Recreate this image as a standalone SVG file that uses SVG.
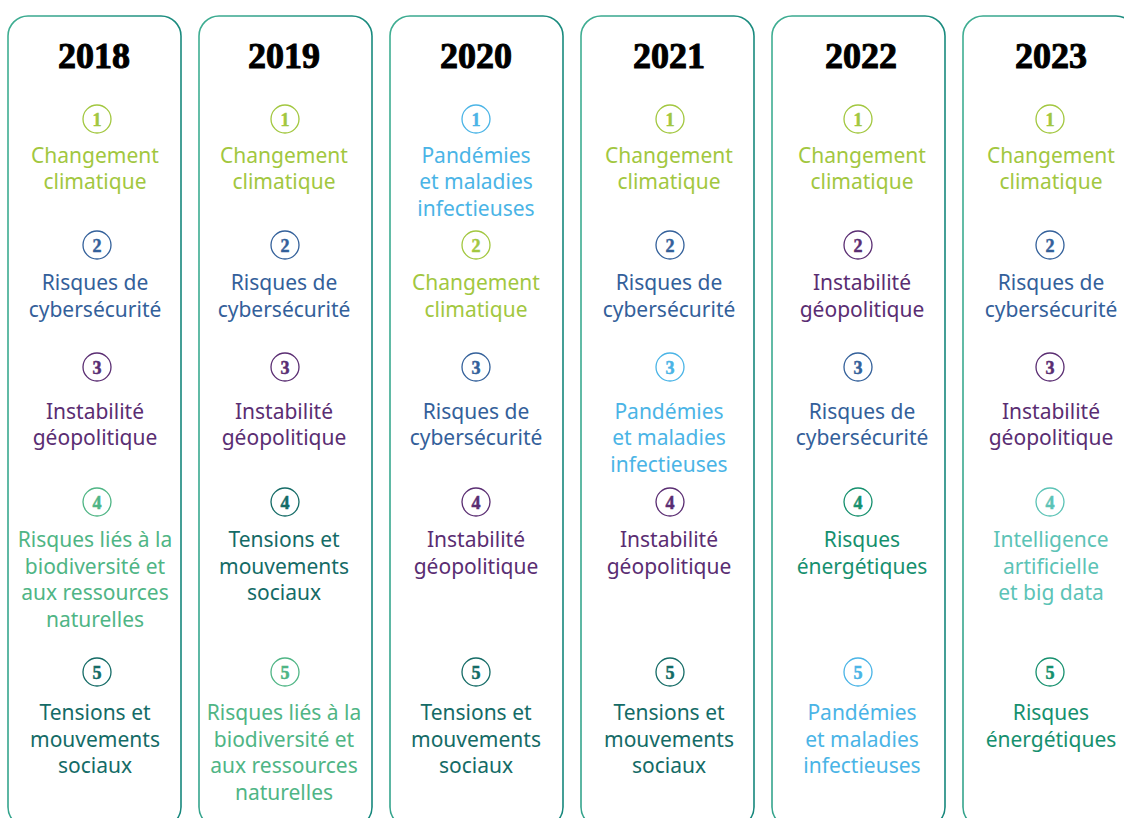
<svg xmlns="http://www.w3.org/2000/svg" width="1124" height="818" viewBox="0 0 1124 818">
<defs>
<linearGradient id="gs" x1="0" y1="0" x2="1" y2="0.3">
<stop offset="0" stop-color="#3fae92"/>
<stop offset="1" stop-color="#16877c"/>
</linearGradient>
<style>
.col{fill:none;stroke:url(#gs);stroke-width:1.6}
.yr{font-family:"Liberation Serif",serif;font-weight:bold;font-size:36px;fill:#000;stroke:#000;stroke-width:1;text-anchor:middle}
.bc{fill:#fff;stroke-width:1.3}
.bn{font-family:"Liberation Serif",serif;font-weight:bold;font-size:18px;text-anchor:middle;stroke-width:0.5}
.t{font-family:"Noto Sans","Open Sans",sans-serif;font-size:21px;text-anchor:middle}
.lime{fill:#a2c73f;stroke:#a2c73f}
.blue{fill:#33609a;stroke:#33609a}
.purp{fill:#5a2d72;stroke:#5a2d72}
.grn{fill:#4fb585;stroke:#4fb585}
.teal{fill:#146b66;stroke:#146b66}
.lblu{fill:#4ab4e6;stroke:#4ab4e6}
.eng{fill:#16906e;stroke:#16906e}
.turq{fill:#5cc3b6;stroke:#5cc3b6}
text.t{stroke:none}
circle.bc{fill:#fff}
</style>
</defs>
<rect width="1124" height="818" fill="#fff"/>

<g id="col-2018">
<rect class="col" x="8" y="16" width="173" height="811" rx="20"/>
<text class="yr" x="94" y="68">2018</text>
<g class="lime"><circle class="bc" cx="97" cy="119" r="14"/><text class="bn" x="97" y="125.5">1</text>
<text class="t" x="95" y="163">Changement</text><text class="t" x="95" y="189">climatique</text></g>
<g class="blue"><circle class="bc" cx="97" cy="245" r="14"/><text class="bn" x="97" y="251.5">2</text>
<text class="t" x="95" y="290">Risques de</text><text class="t" x="95" y="317">cybersécurité</text></g>
<g class="purp"><circle class="bc" cx="97" cy="367" r="14"/><text class="bn" x="97" y="373.5">3</text>
<text class="t" x="95" y="419">Instabilité</text><text class="t" x="95" y="445">géopolitique</text></g>
<g class="grn"><circle class="bc" cx="97" cy="502" r="14"/><text class="bn" x="97" y="508.5">4</text>
<text class="t" x="95" y="547">Risques liés à la</text><text class="t" x="95" y="574">biodiversité et</text><text class="t" x="95" y="600">aux ressources</text><text class="t" x="95" y="627">naturelles</text></g>
<g class="teal"><circle class="bc" cx="97" cy="672" r="14"/><text class="bn" x="97" y="678.5">5</text>
<text class="t" x="95" y="720">Tensions et</text><text class="t" x="95" y="747">mouvements</text><text class="t" x="95" y="773">sociaux</text></g>
</g>

<g id="col-2019">
<rect class="col" x="199" y="16" width="173" height="811" rx="20"/>
<text class="yr" x="284" y="68">2019</text>
<g class="lime"><circle class="bc" cx="285" cy="119" r="14"/><text class="bn" x="285" y="125.5">1</text>
<text class="t" x="284" y="163">Changement</text><text class="t" x="284" y="189">climatique</text></g>
<g class="blue"><circle class="bc" cx="285" cy="245" r="14"/><text class="bn" x="285" y="251.5">2</text>
<text class="t" x="284" y="290">Risques de</text><text class="t" x="284" y="317">cybersécurité</text></g>
<g class="purp"><circle class="bc" cx="285" cy="367" r="14"/><text class="bn" x="285" y="373.5">3</text>
<text class="t" x="284" y="419">Instabilité</text><text class="t" x="284" y="445">géopolitique</text></g>
<g class="teal"><circle class="bc" cx="285" cy="502" r="14"/><text class="bn" x="285" y="508.5">4</text>
<text class="t" x="284" y="547">Tensions et</text><text class="t" x="284" y="574">mouvements</text><text class="t" x="284" y="600">sociaux</text></g>
<g class="grn"><circle class="bc" cx="285" cy="672" r="14"/><text class="bn" x="285" y="678.5">5</text>
<text class="t" x="284" y="720">Risques liés à la</text><text class="t" x="284" y="747">biodiversité et</text><text class="t" x="284" y="773">aux ressources</text><text class="t" x="284" y="800">naturelles</text></g>
</g>

<g id="col-2020">
<rect class="col" x="390" y="16" width="173" height="811" rx="20"/>
<text class="yr" x="476" y="68">2020</text>
<g class="lblu"><circle class="bc" cx="476" cy="119" r="14"/><text class="bn" x="476" y="125.5">1</text>
<text class="t" x="476" y="163">Pandémies</text><text class="t" x="476" y="189">et maladies</text><text class="t" x="476" y="216">infectieuses</text></g>
<g class="lime"><circle class="bc" cx="476" cy="245" r="14"/><text class="bn" x="476" y="251.5">2</text>
<text class="t" x="476" y="290">Changement</text><text class="t" x="476" y="317">climatique</text></g>
<g class="blue"><circle class="bc" cx="476" cy="367" r="14"/><text class="bn" x="476" y="373.5">3</text>
<text class="t" x="476" y="419">Risques de</text><text class="t" x="476" y="445">cybersécurité</text></g>
<g class="purp"><circle class="bc" cx="476" cy="502" r="14"/><text class="bn" x="476" y="508.5">4</text>
<text class="t" x="476" y="547">Instabilité</text><text class="t" x="476" y="574">géopolitique</text></g>
<g class="teal"><circle class="bc" cx="476" cy="672" r="14"/><text class="bn" x="476" y="678.5">5</text>
<text class="t" x="476" y="720">Tensions et</text><text class="t" x="476" y="747">mouvements</text><text class="t" x="476" y="773">sociaux</text></g>
</g>

<g id="col-2021">
<rect class="col" x="581" y="16" width="173" height="811" rx="20"/>
<text class="yr" x="669" y="68">2021</text>
<g class="lime"><circle class="bc" cx="670" cy="119" r="14"/><text class="bn" x="670" y="125.5">1</text>
<text class="t" x="669" y="163">Changement</text><text class="t" x="669" y="189">climatique</text></g>
<g class="blue"><circle class="bc" cx="670" cy="245" r="14"/><text class="bn" x="670" y="251.5">2</text>
<text class="t" x="669" y="290">Risques de</text><text class="t" x="669" y="317">cybersécurité</text></g>
<g class="lblu"><circle class="bc" cx="670" cy="367" r="14"/><text class="bn" x="670" y="373.5">3</text>
<text class="t" x="669" y="419">Pandémies</text><text class="t" x="669" y="445">et maladies</text><text class="t" x="669" y="472">infectieuses</text></g>
<g class="purp"><circle class="bc" cx="670" cy="502" r="14"/><text class="bn" x="670" y="508.5">4</text>
<text class="t" x="669" y="547">Instabilité</text><text class="t" x="669" y="574">géopolitique</text></g>
<g class="teal"><circle class="bc" cx="670" cy="672" r="14"/><text class="bn" x="670" y="678.5">5</text>
<text class="t" x="669" y="720">Tensions et</text><text class="t" x="669" y="747">mouvements</text><text class="t" x="669" y="773">sociaux</text></g>
</g>

<g id="col-2022">
<rect class="col" x="772" y="16" width="173" height="811" rx="20"/>
<text class="yr" x="861" y="68">2022</text>
<g class="lime"><circle class="bc" cx="858" cy="119" r="14"/><text class="bn" x="858" y="125.5">1</text>
<text class="t" x="862" y="163">Changement</text><text class="t" x="862" y="189">climatique</text></g>
<g class="purp"><circle class="bc" cx="858" cy="245" r="14"/><text class="bn" x="858" y="251.5">2</text>
<text class="t" x="862" y="290">Instabilité</text><text class="t" x="862" y="317">géopolitique</text></g>
<g class="blue"><circle class="bc" cx="858" cy="367" r="14"/><text class="bn" x="858" y="373.5">3</text>
<text class="t" x="862" y="419">Risques de</text><text class="t" x="862" y="445">cybersécurité</text></g>
<g class="eng"><circle class="bc" cx="858" cy="502" r="14"/><text class="bn" x="858" y="508.5">4</text>
<text class="t" x="862" y="547">Risques</text><text class="t" x="862" y="574">énergétiques</text></g>
<g class="lblu"><circle class="bc" cx="858" cy="672" r="14"/><text class="bn" x="858" y="678.5">5</text>
<text class="t" x="862" y="720">Pandémies</text><text class="t" x="862" y="747">et maladies</text><text class="t" x="862" y="773">infectieuses</text></g>
</g>

<g id="col-2023">
<rect class="col" x="963" y="16" width="173" height="811" rx="20"/>
<text class="yr" x="1051" y="68">2023</text>
<g class="lime"><circle class="bc" cx="1050" cy="119" r="14"/><text class="bn" x="1050" y="125.5">1</text>
<text class="t" x="1051" y="163">Changement</text><text class="t" x="1051" y="189">climatique</text></g>
<g class="blue"><circle class="bc" cx="1050" cy="245" r="14"/><text class="bn" x="1050" y="251.5">2</text>
<text class="t" x="1051" y="290">Risques de</text><text class="t" x="1051" y="317">cybersécurité</text></g>
<g class="purp"><circle class="bc" cx="1050" cy="367" r="14"/><text class="bn" x="1050" y="373.5">3</text>
<text class="t" x="1051" y="419">Instabilité</text><text class="t" x="1051" y="445">géopolitique</text></g>
<g class="turq"><circle class="bc" cx="1050" cy="502" r="14"/><text class="bn" x="1050" y="508.5">4</text>
<text class="t" x="1051" y="547">Intelligence</text><text class="t" x="1051" y="574">artificielle</text><text class="t" x="1051" y="600">et big data</text></g>
<g class="eng"><circle class="bc" cx="1050" cy="672" r="14"/><text class="bn" x="1050" y="678.5">5</text>
<text class="t" x="1051" y="720">Risques</text><text class="t" x="1051" y="747">énergétiques</text></g>
</g>
</svg>
